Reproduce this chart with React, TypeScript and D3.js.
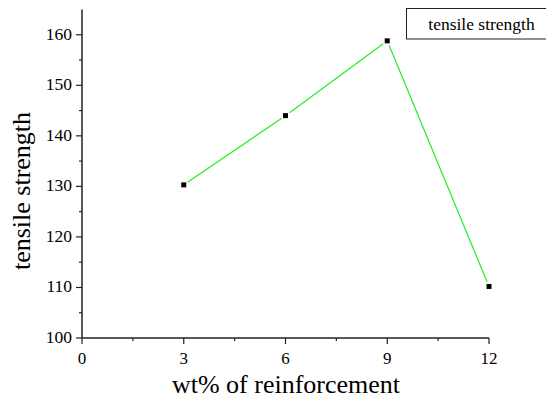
import React, { useEffect, useRef } from "react";
import * as d3 from "d3";

const loadings = [3, 6, 9, 12];
const strength = [130.3, 144.0, 158.8, 110.2];
const xTicks = [0, 3, 6, 9, 12];
const yTicks = [100, 110, 120, 130, 140, 150, 160];
const seriesName = "tensile strength";

const App = () => {
  const ref = useRef<HTMLDivElement>(null);

  useEffect(() => {
    drawChart();
  }, []);

  const drawChart = () => {
    const width = 554,
      height = 401;
    const font = "Liberation Serif, serif";

    const svg = d3
      .select(ref.current)
      .html("")
      .append("svg")
      .attr("width", width)
      .attr("height", height)
      .attr("font-family", font)
      .style("display", "block")
      .style("background", "#fff");

    const x = d3.scaleLinear().domain([0, 12]).range([82, 489]);
    const y = d3.scaleLinear().domain([100, 165]).range([338, 9.5]);

    // axes
    const axisColor = "#222";
    svg
      .append("line")
      .attr("x1", x(0))
      .attr("x2", x(0))
      .attr("y1", y(100))
      .attr("y2", y(165))
      .attr("stroke", axisColor)
      .attr("stroke-width", 1.5);
    svg
      .append("line")
      .attr("x1", x(0))
      .attr("x2", x(12))
      .attr("y1", y(100))
      .attr("y2", y(100))
      .attr("stroke", axisColor)
      .attr("stroke-width", 1.5);

    const xMinor = d3.range(1.5, 12, 3);
    svg
      .selectAll("xmaj")
      .data(xTicks)
      .join("line")
      .attr("x1", (d) => x(d))
      .attr("x2", (d) => x(d))
      .attr("y1", y(100))
      .attr("y2", y(100) + 6)
      .attr("stroke", axisColor)
      .attr("stroke-width", 1.2);
    svg
      .selectAll("xmin")
      .data(xMinor)
      .join("line")
      .attr("x1", (d) => x(d))
      .attr("x2", (d) => x(d))
      .attr("y1", y(100))
      .attr("y2", y(100) + 3)
      .attr("stroke", axisColor)
      .attr("stroke-width", 1.2);
    svg
      .selectAll("xlab")
      .data(xTicks)
      .join("text")
      .attr("x", (d) => x(d))
      .attr("y", y(100) + 25.5)
      .attr("text-anchor", "middle")
      .attr("font-size", 17)
      .text((d) => d);

    const yMinor = d3.range(105, 165, 10);
    svg
      .selectAll("ymaj")
      .data(yTicks)
      .join("line")
      .attr("x1", x(0) - 6)
      .attr("x2", x(0))
      .attr("y1", (d) => y(d))
      .attr("y2", (d) => y(d))
      .attr("stroke", axisColor)
      .attr("stroke-width", 1.2);
    svg
      .selectAll("ymin")
      .data(yMinor)
      .join("line")
      .attr("x1", x(0) - 3)
      .attr("x2", x(0))
      .attr("y1", (d) => y(d))
      .attr("y2", (d) => y(d))
      .attr("stroke", axisColor)
      .attr("stroke-width", 1.2);
    svg
      .selectAll("ylab")
      .data(yTicks)
      .join("text")
      .attr("x", x(0) - 10)
      .attr("y", (d) => y(d) + 5)
      .attr("text-anchor", "end")
      .attr("font-size", 17.5)
      .text((d) => d);

    // axis titles
    svg
      .append("text")
      .attr("x", 286)
      .attr("y", 393)
      .attr("text-anchor", "middle")
      .attr("font-size", 26)
      .text("wt% of reinforcement");
    svg
      .append("text")
      .attr("transform", `translate(30, 191) rotate(-90)`)
      .attr("text-anchor", "middle")
      .attr("font-size", 26)
      .text("tensile strength");

    // line segments with small gaps near markers
    const pts = loadings.map((d, i) => [x(d), y(strength[i])]);
    const gap = 5;
    const segs = d3.pairs(pts).map(([a, b]) => {
      const dx = b[0] - a[0],
        dy = b[1] - a[1];
      const len = Math.hypot(dx, dy);
      const ux = dx / len,
        uy = dy / len;
      return [a[0] + ux * gap, a[1] + uy * gap, b[0] - ux * gap, b[1] - uy * gap];
    });
    svg
      .selectAll("seg")
      .data(segs)
      .join("line")
      .attr("x1", (d) => d[0])
      .attr("y1", (d) => d[1])
      .attr("x2", (d) => d[2])
      .attr("y2", (d) => d[3])
      .attr("stroke", "#22ee22")
      .attr("stroke-width", 1.2);

    svg
      .selectAll("pt")
      .data(pts)
      .join("rect")
      .attr("x", (d) => d[0] - 2.5)
      .attr("y", (d) => d[1] - 2.5)
      .attr("width", 5)
      .attr("height", 5)
      .attr("fill", "#000");

    // legend
    svg
      .append("rect")
      .attr("x", 406.5)
      .attr("y", 8.5)
      .attr("width", 145)
      .attr("height", 30.5)
      .attr("fill", "#fff")
      .attr("stroke", "#222")
      .attr("stroke-width", 1);
    svg
      .append("text")
      .attr("x", 481.5)
      .attr("y", 30)
      .attr("text-anchor", "middle")
      .attr("font-size", 17.5)
      .text(seriesName);
  };

  return <div ref={ref} style={{ margin: -8 }}></div>;
};

export default App;
